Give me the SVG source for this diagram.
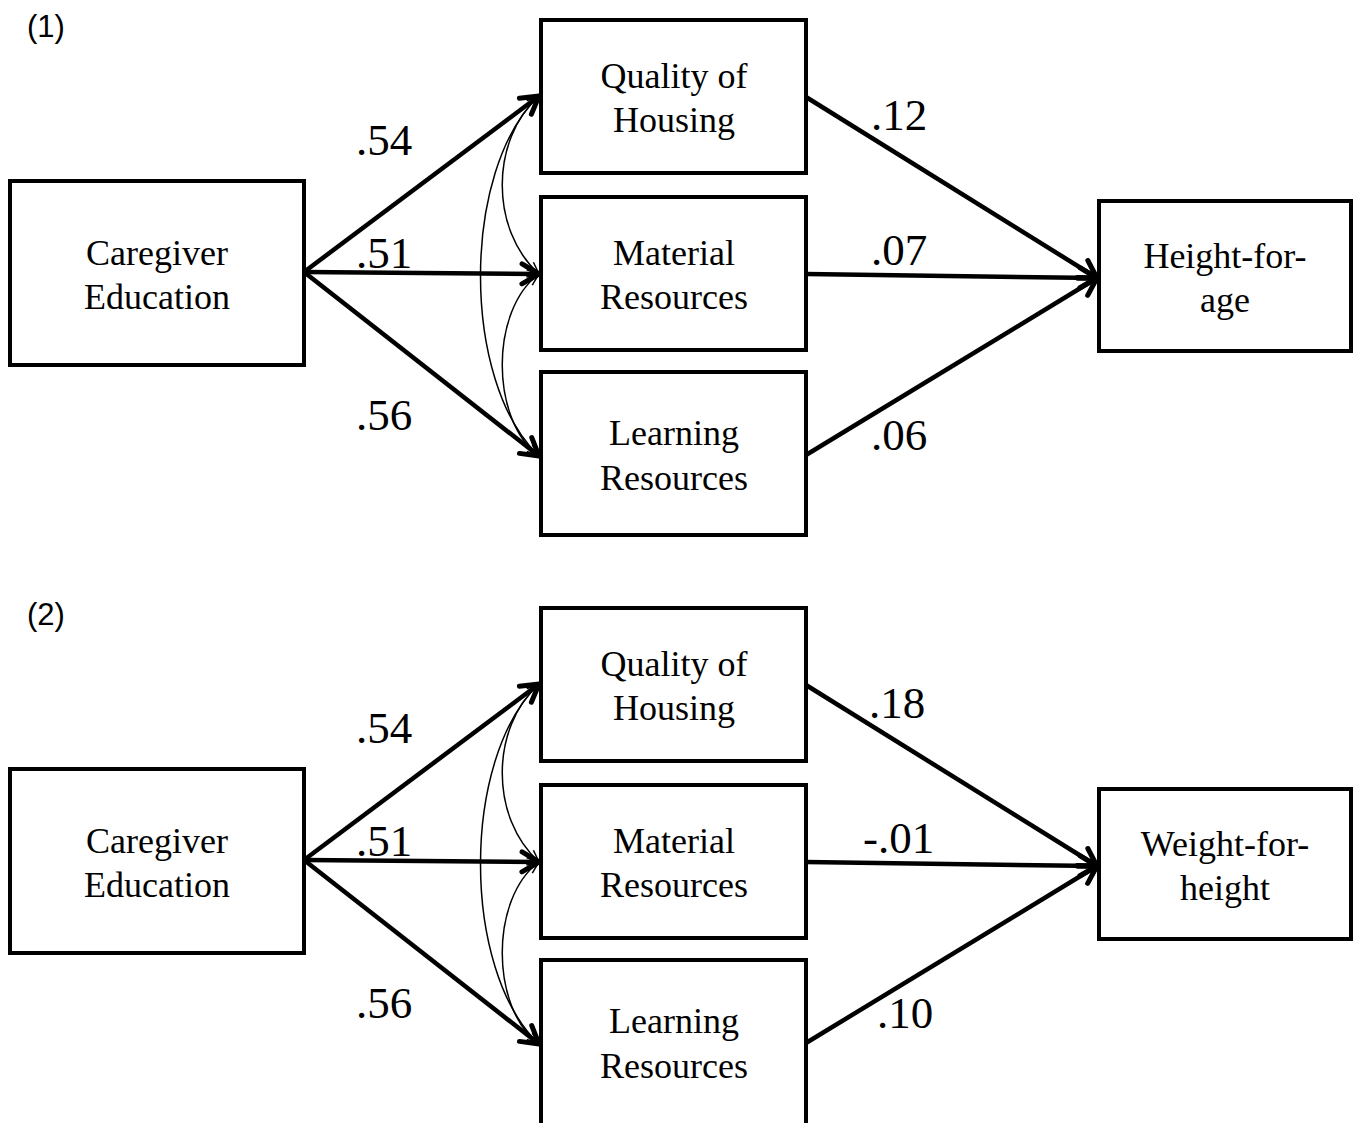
<svg xmlns="http://www.w3.org/2000/svg" width="1360" height="1123" viewBox="0 0 1360 1123">
<defs>
<style>
.box{fill:#fff;stroke:#000;stroke-width:4}
.lbl{font-family:"Liberation Serif","Times New Roman",serif;font-size:36px;text-anchor:middle;fill:#000}
.coef{font-family:"Liberation Serif","Times New Roman",serif;font-size:45px;fill:#000}
.panel{font-family:"Liberation Sans",Arial,sans-serif;font-size:31px;fill:#000}
.path{stroke:#000;stroke-width:4.5;fill:none;marker-end:url(#ah)}
.cor{stroke:#000;stroke-width:1.5;fill:none;marker-start:url(#th);marker-end:url(#th)}
</style>
<marker id="ah" markerUnits="userSpaceOnUse" viewBox="-22 -14 26 28" refX="0" refY="0" markerWidth="26" markerHeight="28" orient="auto">
<path d="M-17 -10 L0 0 L-17 10" fill="none" stroke="#000" stroke-width="5" stroke-linecap="round" stroke-linejoin="round"/>
</marker>
<marker id="th" markerUnits="userSpaceOnUse" viewBox="-14 -8 16 16" refX="0" refY="0" markerWidth="16" markerHeight="16" orient="auto-start-reverse">
<path d="M-12 -5 L0 0 L-12 5" fill="none" stroke="#000" stroke-width="1.5"/>
</marker>
</defs>
<rect width="1360" height="1123" fill="#fff"/>

<text class="panel" x="27" y="37">(1)</text>
<text class="panel" x="27" y="625">(2)</text>

<g id="connectors">
<path class="path" d="M304 272 L539 96"/>
<path class="path" d="M304 272 L539 274"/>
<path class="path" d="M304 272 L539 456"/>
<path class="path" d="M806 97 L1097 278"/>
<path class="path" d="M806 274 L1097 278"/>
<path class="path" d="M806 455 L1097 278"/>
<path class="cor" d="M539 96 C490 140 490 230 539 274"/>
<path class="cor" d="M539 96 C461 170 461 382 539 456"/>
<path class="cor" d="M539 274 C490 310 490 420 539 456"/>
<path class="path" d="M304 860 L539 684"/>
<path class="path" d="M304 860 L539 862"/>
<path class="path" d="M304 860 L539 1044"/>
<path class="path" d="M806 685 L1097 866"/>
<path class="path" d="M806 862 L1097 866"/>
<path class="path" d="M806 1043 L1097 866"/>
<path class="cor" d="M539 684 C490 728 490 818 539 862"/>
<path class="cor" d="M539 684 C461 758 461 970 539 1044"/>
<path class="cor" d="M539 862 C490 898 490 1008 539 1044"/>
</g>

<g id="coefs1">
<text class="coef" x="356" y="155">.54</text>
<text class="coef" x="356" y="268">.51</text>
<text class="coef" x="356" y="430">.56</text>
<text class="coef" x="871" y="130">.12</text>
<text class="coef" x="871" y="265">.07</text>
<text class="coef" x="871" y="450">.06</text>
</g>
<g id="coefs2">
<text class="coef" x="356" y="743">.54</text>
<text class="coef" x="356" y="856">.51</text>
<text class="coef" x="356" y="1018">.56</text>
<text class="coef" x="869" y="718">.18</text>
<text class="coef" x="863" y="853">-.01</text>
<text class="coef" x="877" y="1028">.10</text>
</g>

<g id="caregiver1"><rect class="box" x="10" y="181" width="294" height="184"/><text class="lbl" x="157" y="265">Caregiver</text><text class="lbl" x="157" y="309">Education</text></g>
<g id="housing1"><rect class="box" x="541" y="20" width="265" height="153"/><text class="lbl" x="674" y="88">Quality of</text><text class="lbl" x="674" y="132">Housing</text></g>
<g id="material1"><rect class="box" x="541" y="197" width="265" height="153"/><text class="lbl" x="674" y="265">Material</text><text class="lbl" x="674" y="309">Resources</text></g>
<g id="learning1"><rect class="box" x="541" y="372" width="265" height="163"/><text class="lbl" x="674" y="445">Learning</text><text class="lbl" x="674" y="490">Resources</text></g>
<g id="hfa"><rect class="box" x="1099" y="201" width="252" height="150"/><text class="lbl" x="1225" y="268">Height-for-</text><text class="lbl" x="1225" y="312">age</text></g>

<g id="caregiver2"><rect class="box" x="10" y="769" width="294" height="184"/><text class="lbl" x="157" y="853">Caregiver</text><text class="lbl" x="157" y="897">Education</text></g>
<g id="housing2"><rect class="box" x="541" y="608" width="265" height="153"/><text class="lbl" x="674" y="676">Quality of</text><text class="lbl" x="674" y="720">Housing</text></g>
<g id="material2"><rect class="box" x="541" y="785" width="265" height="153"/><text class="lbl" x="674" y="853">Material</text><text class="lbl" x="674" y="897">Resources</text></g>
<g id="learning2"><rect class="box" x="541" y="960" width="265" height="170"/><text class="lbl" x="674" y="1033">Learning</text><text class="lbl" x="674" y="1078">Resources</text></g>
<g id="wfh"><rect class="box" x="1099" y="789" width="252" height="150"/><text class="lbl" x="1225" y="856">Weight-for-</text><text class="lbl" x="1225" y="900">height</text></g>
</svg>
